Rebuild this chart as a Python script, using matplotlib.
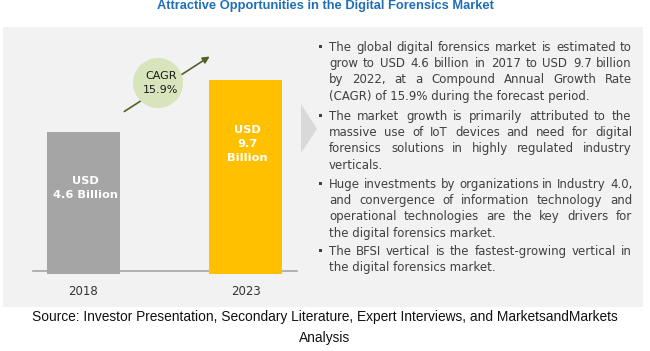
import matplotlib
matplotlib.use("Agg")
import matplotlib.pyplot as plt
import numpy as np
from matplotlib.patches import Rectangle, Circle, Polygon

# data
years = ["2018", "2023"]
market_size = [4.6, 9.7]
bar_labels = ["USD\n4.6 Billion", "USD\n9.7\nBillion"]
bar_colors = ["#A5A5A5", "#FFC000"]
cagr_label = "CAGR\n15.9%"

title = "Attractive Opportunities in the Digital Forensics Market"
source = ("Source: Investor Presentation, Secondary Literature, Expert Interviews, and MarketsandMarkets\n"
          "Analysis")

bullets = [
    ["The global digital forensics market is estimated to",
     "grow to USD 4.6 billion in 2017 to USD 9.7 billion",
     "by 2022, at a Compound Annual Growth Rate",
     "(CAGR) of 15.9% during the forecast period."],
    ["The market growth is primarily attributed to the",
     "massive use of IoT devices and need for digital",
     "forensics solutions in highly regulated industry",
     "verticals."],
    ["Huge investments by organizations in Industry 4.0,",
     "and convergence of information technology and",
     "operational technologies are the key drivers for",
     "the digital forensics market."],
    ["The BFSI vertical is the fastest-growing vertical in",
     "the digital forensics market."],
]
para_tops = [47, 116, 184, 251]

W, H = 650, 351
fig = plt.figure(figsize=(W / 100, H / 100), dpi=100)

# background layer in pixel coordinates
bg = fig.add_axes([0, 0, 1, 1], zorder=0)
bg.set_xlim(0, W)
bg.set_ylim(H, 0)
bg.axis("off")
bg.add_patch(Rectangle((3, 27), 640, 280, facecolor="#F2F2F2", edgecolor="none"))
bg.add_patch(Polygon([(301, 104), (317, 129), (301, 153)], facecolor="#D9D9D9", edgecolor="none"))

bg.text(W / 2, 6, title, ha="center", va="center", fontsize=9.3, fontweight="bold",
        color="#1F6FB5", family=["Liberation Sans", "DejaVu Sans"])
bg.text(W / 2, 327.5, source, ha="center", va="center", fontsize=9.9, linespacing=1.6,
        color="#111111", family=["Liberation Sans", "DejaVu Sans"])

# justified bullet text, one text per word on a shared integer baseline
renderer = fig.canvas.get_renderer()
x0, x1 = 329, 632
txt_kw = dict(fontsize=8.5, color="#404040", va="baseline", ha="left", family=["DejaVu Sans"])
line_gap = 16.2
for para, top in zip(bullets, para_tops):
    bg.add_patch(Rectangle((319, top - 2), 3, 3, facecolor="#404040", edgecolor="none"))
    for i, line in enumerate(para):
        y = round(top + i * line_gap + 4)
        if i == len(para) - 1 and len(para) > 1:
            bg.text(x0, y, line, **txt_kw)
            continue
        words = line.split(" ")
        items = [bg.text(0, y, w, **txt_kw) for w in words]
        widths = [t.get_window_extent(renderer).width for t in items]
        gap = (x1 - x0 - sum(widths)) / max(len(words) - 1, 1)
        x = x0
        for t, w in zip(items, widths):
            t.set_x(round(x))
            x += w + gap

# bar chart
base = -9.3
ax = fig.add_axes([30 / W, 1 - 274 / H, 268 / W, 234 / H], zorder=1)
ax.patch.set_alpha(0)
xpos = np.arange(len(years))
vals = np.array(market_size)
ax.bar(xpos, vals - base, bottom=base, width=0.45, color=bar_colors, zorder=2)
ax.axhline(base + 0.3, xmin=0.01, xmax=0.995, color="#A6A6A6", lw=1.2, zorder=1)
ax.set_xlim(-0.33, 1.324)
ax.set_ylim(base, base + 22.9)
ax.axis("off")

label_y = [(vals[0] + base) / 2 + 1.5, vals[1] - 6.25]
for xp, lab, ly in zip(xpos, bar_labels, label_y):
    ax.text(xp + 0.01, ly, lab, ha="center", va="center", color="white", fontsize=8.2,
            fontweight="bold", linespacing=1.5, family=["DejaVu Sans"])
for xp, yr in zip(xpos, years):
    ax.text(xp, base - 1.7, yr, ha="center", va="center", color="#333333", fontsize=8.5,
            family=["DejaVu Sans"])

# CAGR bubble and arrow
fg = fig.add_axes([0, 0, 1, 1], zorder=2)
fg.patch.set_alpha(0)
fg.set_xlim(0, W)
fg.set_ylim(H, 0)
fg.axis("off")
fg.annotate("", xy=(212, 55), xytext=(122, 113),
            arrowprops=dict(arrowstyle="-|>", color="#4F6228", lw=1.2, mutation_scale=10))
fg.add_patch(Circle((158, 83), 25, facecolor="#D8E4BC", edgecolor="none", zorder=3))
fg.text(161, 83, cagr_label, ha="center", va="center", fontsize=8, linespacing=1.6,
        color="#1A1A1A", zorder=4, family=["DejaVu Sans"])

fig.savefig("out.png", dpi=100)
